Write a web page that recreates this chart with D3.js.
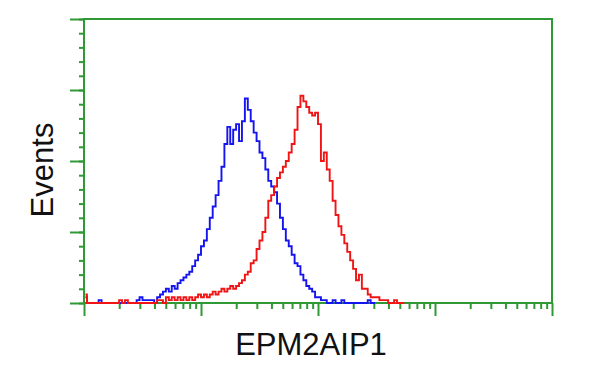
<!DOCTYPE html>
<html>
<head>
<meta charset="utf-8">
<script src="https://cdn.jsdelivr.net/npm/d3@7"></script>
<style>
  body { margin: 0; background: #fff; }
  text { font-family: "Liberation Sans", Arial, sans-serif; fill: #111; }
</style>
</head>
<body>
<script>
// histogram counts per channel (160 channels over 4 log decades)
const nChannels = 160

const blueCounts = [2,0,0,0,0,1,0,0,0,0,
    0,0,0,0,0,0,0,0,1,2,
    1,1,1,1,0,2,3,4,5,4,
    6,5,7,8,9,10,11,13,15,17,
    20,22,26,30,34,38,43,48,56,62,
    56,61,63,57,64,72,68,64,60,57,
    53,51,47,43,41,39,35,30,26,22,
    20,17,14,13,10,8,6,5,4,2,
    2,1,1,0,0,1,0,0,1,0,
    0,0,0,0,0,0,0,1,0,0]

const redCounts = [3,0,0,0,0,0,0,0,0,0,
    0,0,1,0,1,0,0,0,0,0,
    0,0,0,0,0,1,1,0,2,1,
    2,1,2,1,2,1,2,1,2,3,
    2,3,2,3,4,3,4,5,4,5,
    6,5,6,7,8,10,11,14,15,19,
    22,25,30,36,38,41,44,46,48,50,
    53,56,61,69,73,71,69,67,66,67,
    63,50,53,47,43,36,31,27,24,21,
    18,15,12,8,10,5,5,3,2,2,
    2,1,1,1,0,0,1,0,0,0]

const xDecades = [1, 10, 100, 1000, 10000]
const yMax = 100
const yMajor = [0, 25, 50, 75, 100]
const yMinor = d3.range(0, 101, 5)

const xLabel = 'EPM2AIP1'
const yLabel = 'Events'

const W = 600, H = 375
const mLeft = 84, mRight = 552, mTop = 19, mBottom = 303
const green = '#2f9a35'

const svg = d3.select('body')
    .append('svg')
    .attr('width', W)
    .attr('height', H)

let xCh = d3.scaleLinear()
    .domain([0, nChannels])
    .range([mLeft, mRight])

let xLog = d3.scaleLog()
    .domain([xDecades[0], xDecades[xDecades.length - 1]])
    .range([mLeft, mRight])

let y = d3.scaleLinear()
    .domain([0, yMax])
    .range([mBottom, mTop])

// minor ticks for log axis: 2..9 in each decade
let xMinor = []
xDecades.slice(0, -1).forEach(d => {
    for (let k = 2; k < 10; k++) xMinor.push(d * k)
})

svg.append('g')
    .attr('transform', `translate(0, ${mBottom})`)
    .call(d3.axisBottom(xLog).tickValues(xMinor).tickSize(6).tickFormat(''))
svg.append('g')
    .attr('transform', `translate(0, ${mBottom})`)
    .call(d3.axisBottom(xLog).tickValues(xDecades).tickSize(13).tickFormat(''))

svg.append('g')
    .attr('transform', `translate(${mLeft}, 0)`)
    .call(d3.axisLeft(y).tickValues(yMinor).tickSize(5).tickFormat(''))
svg.append('g')
    .attr('transform', `translate(${mLeft}, 0)`)
    .call(d3.axisLeft(y).tickValues(yMajor).tickSize(14).tickFormat(''))

svg.selectAll('.domain').remove()
svg.selectAll('.tick line')
    .attr('stroke', green)
    .attr('stroke-width', 2)

svg.append('rect')
    .attr('x', mLeft)
    .attr('y', mTop)
    .attr('width', mRight - mLeft)
    .attr('height', mBottom - mTop)
    .attr('fill', 'none')
    .attr('stroke', green)
    .attr('stroke-width', 2)

const line = d3.line()
    .x((d, i) => xCh(i + 0.5))
    .y(d => y(d))
    .curve(d3.curveStep)

svg.append('path')
    .datum(blueCounts)
    .attr('d', line)
    .attr('fill', 'none')
    .attr('stroke', '#1414ee')
    .attr('stroke-width', 1.9)

svg.append('path')
    .datum(redCounts)
    .attr('d', line)
    .attr('fill', 'none')
    .attr('stroke', '#f01414')
    .attr('stroke-width', 1.9)

svg.append('text')
    .attr('x', (mLeft + mRight) / 2 - 7)
    .attr('y', 355)
    .attr('text-anchor', 'middle')
    .style('font-size', '31px')
    .text(xLabel)

svg.append('text')
    .attr('transform', `translate(53, ${(mTop + mBottom) / 2 + 9}) rotate(-90)`)
    .attr('text-anchor', 'middle')
    .style('font-size', '31px')
    .text(yLabel)
</script>
</body>
</html>
